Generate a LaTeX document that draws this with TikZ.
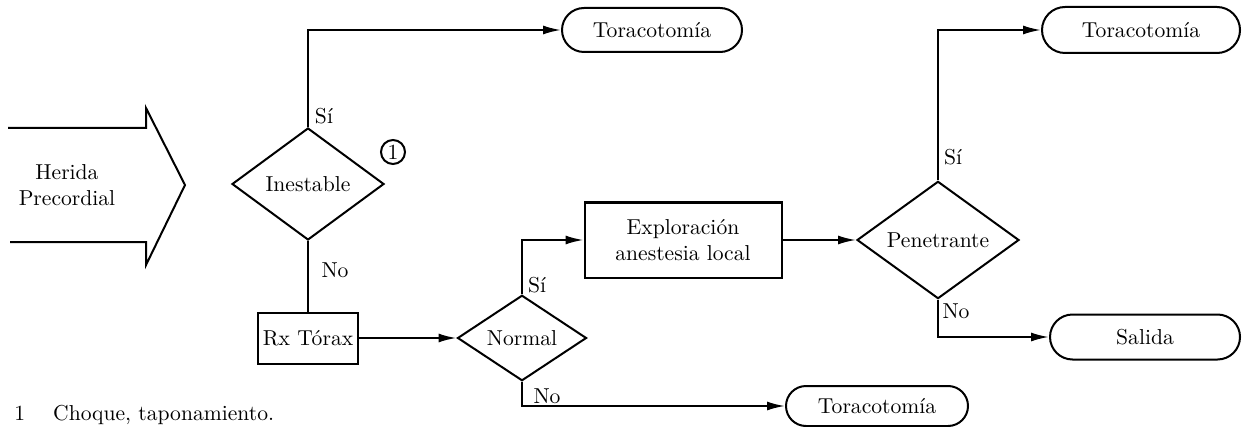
\documentclass[tikz,border=0pt]{standalone}
\usetikzlibrary{shapes.geometric,shapes.misc,arrows.meta}
\begin{document}
\begin{tikzpicture}[x=0.5pt,y=-0.5pt,
  every node/.style={font=\fontsize{10.8}{12.8}\selectfont},
  line/.style={line width=1pt},
  arr/.style={line width=1pt,-{Latex[length=9pt,width=4.5pt]}},
  dec/.style={diamond,draw,line width=1pt,inner sep=0pt},
  box/.style={rectangle,draw,line width=1pt,inner sep=0pt,align=center},
  term/.style={rounded rectangle,draw,line width=1pt,inner sep=0pt},
  lbl/.style={inner sep=1pt}]
\useasboundingbox (0,0) rectangle (1245,427);
% big arrow
\draw[line width=1pt,line join=miter] (8,128) -- (146,128) -- (146,108) -- (185,185) -- (146,265) -- (146,242) -- (10,242);
\node[align=center] (herida) at (67,185) {Herida\\Precordial};
% nodes
\node[dec,minimum width=76pt,minimum height=56pt] (inest) at (308,184) {Inestable};
\node[circle,draw,line width=1pt,inner sep=0pt,minimum size=12pt] (c1) at (393,152) {1};
\node[term,minimum width=90pt,minimum height=22pt] (tor1) at (652,30) {Toracotomía};
\node[box,minimum width=50pt,minimum height=25.5pt] (rx) at (308,338) {Rx Tórax};
\node[dec,minimum width=64.5pt,minimum height=36pt] (normal) at (522,338) {Normal};
\node[box,minimum width=98.5pt,minimum height=37.5pt] (expl) at (683,240) {Exploración\\anestesia local};
\node[dec,minimum width=81pt,minimum height=58pt] (pen) at (938,240) {Penetrante};
\node[term,minimum width=99pt,minimum height=23pt] (tor2) at (1141,30) {Toracotomía};
\node[term,minimum width=95pt,minimum height=22.5pt] (salida) at (1145,337) {Salida};
\node[term,minimum width=91pt,minimum height=20pt] (tor3) at (877,406) {Toracotomía};
% connectors
\draw[arr] (inest.north) |- (tor1.west);
\draw[line] (inest.south) -- (rx.north);
\draw[arr] (rx.east) -- (normal.west);
\draw[arr] (normal.north) |- (expl.west);
\draw[arr] (normal.south) |- (tor3.west);
\draw[arr] (expl.east) -- (pen.west);
\draw[arr] (pen.north) |- (tor2.west);
\draw[arr] (pen.south) |- (salida.west);
% labels
\node[lbl] (l1) at (324,116) {Sí};
\node[lbl] (l2) at (335,270) {No};
\node[lbl] (l3) at (537,285) {Sí};
\node[lbl] (l4) at (547,396) {No};
\node[lbl] (l5) at (953,157) {Sí};
\node[lbl] (l6) at (956,311) {No};
% footnote
\node[anchor=base west,inner sep=0pt] (fn) at (14,420) {1\hspace{14pt}Choque, taponamiento.};
\end{tikzpicture}
\end{document}
